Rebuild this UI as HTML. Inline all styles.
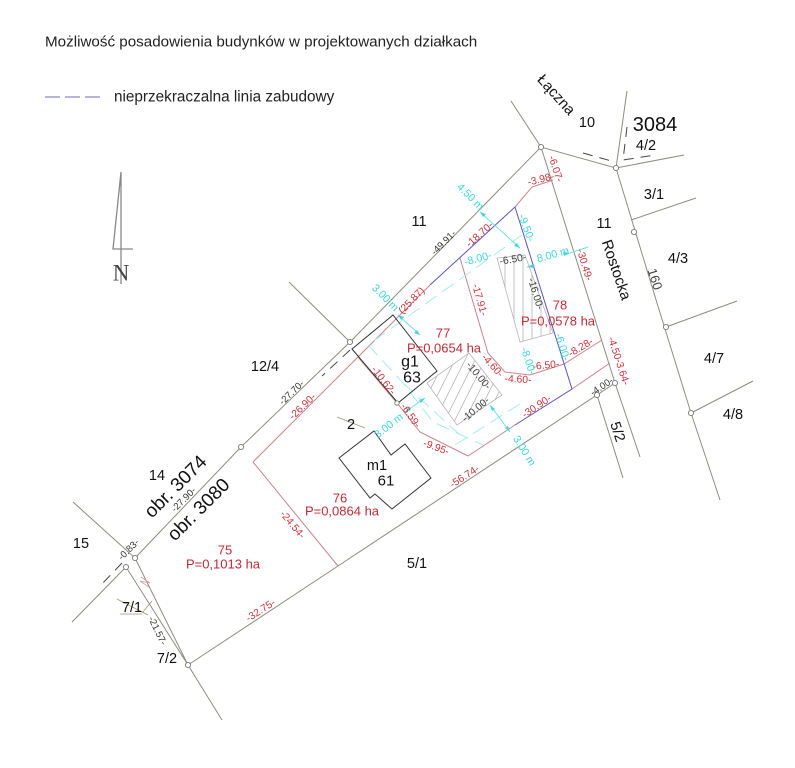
<!DOCTYPE html>
<html><head><meta charset="utf-8"><style>
html,body{margin:0;padding:0;background:#fff}
svg{display:block;filter:blur(.3px)}
text{font-family:"Liberation Sans",sans-serif;text-anchor:middle;dominant-baseline:central}
.k{fill:#111;font-size:14.5px}
.r{fill:#c8323c;font-size:10.3px}
.g{fill:#444;font-size:10.3px}
.c{fill:#3fd6da;font-size:10.8px}
.a{fill:#c02a38;font-size:13px}
.b{fill:#333;font-size:9.6px}
.line{stroke:#8c8c80;stroke-width:1;fill:none}
.red{stroke:#c9848a;stroke-width:1;fill:none}
.blue{stroke:#5a55b8;stroke-width:1;fill:none}
.cy{stroke:#a8ece8;stroke-width:1;fill:none;stroke-dasharray:14 7}
.cs{stroke:#70e0e0;stroke-width:1;fill:none}
.bk{stroke:#333;stroke-width:1;fill:none}
.h{stroke:#b4b4b4;stroke-width:.8;fill:none}
.n{stroke:#777;stroke-width:.9;fill:#fff}
</style></head><body>
<svg width="795" height="768" viewBox="0 0 795 768" xmlns="http://www.w3.org/2000/svg">
<defs>
<clipPath id="h1"><path d="M497 258L525 255L553 333L520 342Z"/></clipPath>
<clipPath id="h2"><path d="M427 383L469 353L502 395L457 425Z"/></clipPath>
</defs>
<rect width="795" height="768" fill="#fff"/>
<line x1="45" y1="97" x2="105" y2="97" stroke="#6a68c0" stroke-dasharray="15 5"/>

<!-- north -->
<path d="M121 172L113 249H133M121 172V284" stroke="#888" stroke-width="1.3" fill="none"/>

<!-- main lines -->
<path class="line" d="M135 558L241 447L350 342L541 147L616 168L657 303L691 413L720 500M135 558L188 665L222 720M126 567L188 665M188 665L338 566L615 383L541 147M126 567L72 622M73 502L135 558M541 147L511 101M616 168L627 91M616 168L684 155M631 220L696 198M666 327L737 301M691 413L753 381M350 342L289 282M597 395L623 478M615 383L640 457"/>
<path stroke="#444" stroke-width="1" stroke-dasharray="10 7" fill="none" d="M583 153L615 162M627 127L623 160L655 155M350 350L322 376M122 563L100 586"/>

<!-- red parcels -->
<path class="red" d="M253 462L430 285M253 462L338 566M515 207L532 187L553 180M358 357L397 403L420 432L468 456M572 389L610 363M460 258L488 353L505 372L530 375L564 364L602 340"/>
<path class="blue" d="M430 285L515 207L572 389L515 425"/>
<path class="red" d="M468 456L515 425"/>

<!-- cyan dashes -->
<path class="cy" d="M522 235L368 345L403 383L433 422L483 445M455 445L523 402M403 383L460 435"/>
<path class="cs" d="M480 212L520 248M398 315L420 335M527 267L535 265M570 253L588 247M405 412L425 398M490 405L510 432"/>
<g fill="#3fd6da">
<path d="M480 212l6 2-3 3zM520 248l-6-2 3-3zM398 315l6 2-3 3zM420 335l-6-2 3-3zM527 267l6-3 1 4zM570 253l-6 3-1-4zM425 398l-4 5-2-3zM405 412l4-5 2 3zM490 405l2 6 3-2zM510 432l-2-6-3 2z"/>
</g>

<!-- buildings -->
<path class="bk" d="M352 349L393 315L437 371L398 403Z"/>
<path class="bk" d="M339 458L374 431L391 455L405 444L431 478L392 509L375 494L370 498Z"/>

<!-- hatched -->
<g class="h">
<path d="M497 258L525 255L553 333L520 342ZM427 383L469 353L502 395L457 425Z"/>
<g clip-path="url(#h1)"><path d="M505 250V350M514 250V350M523 250V350M532 250V350M541 250V350M550 250V350"/></g>
<g clip-path="url(#h2)"><path d="M420 430L460 350M430 430L470 350M440 430L480 350M450 430L490 350M460 430L500 350M470 430L510 350M480 430L520 350M410 430L450 350"/></g>
</g>

<!-- small annotation marks -->
<path d="M337 417L365 428M120 614H142M117 599L148 615M142 613L152 601" stroke="#9a9a70" stroke-width=".8" fill="none"/>
<path d="M141 577L150 583L140 581L149 587" stroke="#c9a0a0" stroke-width=".8" fill="none"/>

<!-- nodes -->
<g class="n">
<circle cx="541" cy="147" r="2.6"/><circle cx="616" cy="168" r="2.6"/><circle cx="634" cy="232" r="2.6"/><circle cx="666" cy="327" r="2.6"/><circle cx="691" cy="413" r="2.6"/><circle cx="597" cy="395" r="2.6"/><circle cx="615" cy="383" r="2.6"/><circle cx="350" cy="342" r="2.6"/><circle cx="241" cy="447" r="2.6"/><circle cx="135" cy="558" r="2.6"/><circle cx="126" cy="567" r="2.6"/><circle cx="188" cy="665" r="2.6"/><circle cx="397" cy="403" r="2.2"/>
</g>

<g transform="translate(0,1)">
<text x="45" y="41" style="text-anchor:start;font-size:15.2px;fill:#222">Możliwość posadowienia budynków w projektowanych działkach</text>
<text x="114" y="96" style="text-anchor:start;font-size:15.3px;fill:#222">nieprzekraczalna linia zabudowy</text>
<text x="121" y="272" style="font-family:'Liberation Serif',serif;font-size:23px;fill:#444">N</text>

<!-- black labels -->
<text class="k" x="419" y="221">11</text>
<text class="k" x="265" y="366">12/4</text>
<text class="k" x="157" y="475">14</text>
<text class="k" x="81" y="543">15</text>
<text class="k" x="587" y="122">10</text>
<text class="k" x="604" y="223">11</text>
<text class="k" x="654" y="194">3/1</text>
<text class="k" x="678" y="258">4/3</text>
<text class="k" x="714" y="358">4/7</text>
<text class="k" x="733" y="414">4/8</text>
<text class="k" x="646" y="145">4/2</text>
<text class="k" x="655" y="124" style="font-size:20px">3084</text>
<text class="k" x="417" y="563">5/1</text>
<text class="k" x="167" y="658">7/2</text>
<text class="k" x="132" y="607">7/1</text>
<text class="k" x="351" y="424">2</text>
<text class="k" x="377" y="465">m1</text>
<text class="k" x="386" y="480" style="font-size:15px">61</text>
<text class="k" x="410" y="361" style="font-size:16px">g1</text>
<text class="k" x="412" y="377" style="font-size:16px">63</text>
<text class="k" x="556" y="94" transform="rotate(48 556 94)" style="font-size:15px">Łączna</text>
<text class="k" x="616" y="269" transform="rotate(71 616 269)" style="font-size:15px">Rostocka</text>
<text class="k" x="655" y="278" transform="rotate(72 655 278)" style="font-size:13px;fill:#444">160</text>
<text class="k" x="617" y="431" transform="rotate(72 617 431)">5/2</text>
<text class="k" x="176" y="486" transform="rotate(-45 176 486)" style="font-size:19px">obr. 3074</text>
<text class="k" x="199" y="509" transform="rotate(-45 199 509)" style="font-size:19px">obr. 3080</text>

<!-- area labels -->
<text class="a" x="225" y="549">75</text><text class="a" x="223" y="563">P=0,1013 ha</text>
<text class="a" x="340" y="497">76</text><text class="a" x="342" y="510">P=0,0864 ha</text>
<text class="a" x="443" y="332">77</text><text class="a" x="444" y="347">P=0,0654 ha</text>
<text class="a" x="560" y="304">78</text><text class="a" x="558" y="320">P=0,0578 ha</text>

<!-- black/grey dimensions -->
<text class="b" x="444" y="242" transform="rotate(-45 444 242)">-49.91-</text>
<text class="b" x="292" y="392" transform="rotate(-44 292 392)">-27.70-</text>
<text class="b" x="184" y="499" transform="rotate(-45 184 499)">-27.90-</text>
<text class="b" x="129" y="549" transform="rotate(-45 129 549)">-0.83-</text>
<text class="b" x="157" y="630" transform="rotate(64 157 630)">-21.57-</text>
<text class="b" x="602" y="386" transform="rotate(-34 602 386)">-4.00-</text>
<text class="g" x="513" y="259" transform="rotate(-10 513 259)">-6.50-</text>
<text class="g" x="535" y="293" transform="rotate(73 535 293)">-16.00-</text>
<text class="g" x="478" y="375" transform="rotate(50 478 375)">-10.00-</text>
<text class="g" x="476" y="409" transform="rotate(-40 476 409)">-10.00-</text>

<!-- red dimensions -->
<text class="r" x="555" y="168" transform="rotate(72 555 168)">-6.07-</text>
<text class="r" x="541" y="179" transform="rotate(-14 541 179)">-3.98-</text>
<text class="r" x="480" y="234" transform="rotate(-42 480 234)">-18.70-</text>
<text class="r" x="412" y="300" transform="rotate(-46 412 300)">(25.87)</text>
<text class="r" x="584" y="264" transform="rotate(73 584 264)">-30.49-</text>
<text class="r" x="479" y="299" transform="rotate(74 479 299)">-17.91-</text>
<text class="r" x="492" y="365" transform="rotate(48 492 365)">-4.60-</text>
<text class="r" x="518" y="379" transform="rotate(3 518 379)">-4.60-</text>
<text class="r" x="546" y="365" transform="rotate(-6 546 365)">-6.50-</text>
<text class="r" x="581" y="347" transform="rotate(-31 581 347)">-8.28-</text>
<text class="r" x="618" y="360" transform="rotate(72 618 360)">-4.50-3.64-</text>
<text class="r" x="537" y="406" transform="rotate(-34 537 406)">-30.90-</text>
<text class="r" x="436" y="447" transform="rotate(20 436 447)">-9.95-</text>
<text class="r" x="465" y="476" transform="rotate(-33 465 476)">-56.74-</text>
<text class="r" x="410" y="415" transform="rotate(55 410 415)">-6.59-</text>
<text class="r" x="383" y="380" transform="rotate(52 383 380)">-10.62-</text>
<text class="r" x="303" y="406" transform="rotate(-44 303 406)">-26.90-</text>
<text class="r" x="292" y="524" transform="rotate(50 292 524)">-24.54-</text>
<text class="r" x="261" y="610" transform="rotate(-33 261 610)">-32.75-</text>

<!-- cyan dimensions -->
<text class="c" x="470" y="196" transform="rotate(45 470 196)">4.50 m</text>
<text class="c" x="385" y="297" transform="rotate(45 385 297)">3.00 m</text>
<text class="c" x="526" y="227" transform="rotate(70 526 227)">-9.50-</text>
<text class="c" x="478" y="258" transform="rotate(-15 478 258)">-8.00-</text>
<text class="c" x="553" y="254" transform="rotate(-16 553 254)">8.00 m</text>
<text class="c" x="562" y="346" transform="rotate(73 562 346)">-6.00-</text>
<text class="c" x="528" y="360" transform="rotate(72 528 360)">-8.00-</text>
<text class="c" x="389" y="425" transform="rotate(-38 389 425)">3.00 m</text>
<text class="c" x="524" y="450" transform="rotate(58 524 450)">3.00 m</text>
</g>
</svg>
</body></html>
